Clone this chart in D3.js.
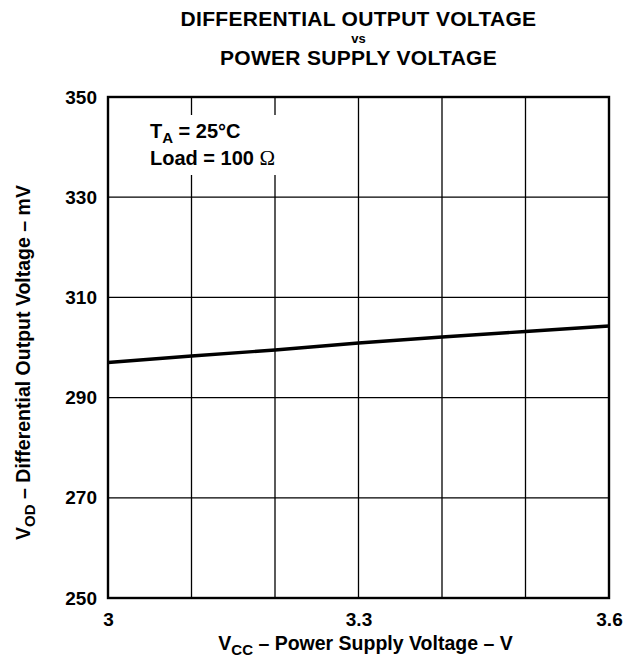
<!DOCTYPE html>
<html>
<head>
<meta charset="utf-8">
<script src="https://cdn.jsdelivr.net/npm/d3@7"></script>
<style>
  body { margin: 0; background: #fff; }
  text { font-family: "Liberation Sans", Arial, sans-serif; font-weight: bold; fill: #000; }
</style>
</head>
<body>
<svg id="chart"></svg>
<script>
// supply voltage (V) and differential output voltage (mV)
const vcc = [3.0, 3.1, 3.2, 3.3, 3.4, 3.5, 3.6];
const vod = [297.0, 298.3, 299.5, 300.9, 302.1, 303.2, 304.3];
const xTicks = [3.0, 3.1, 3.2, 3.3, 3.4, 3.5, 3.6];
const xTickLabels = ['3', '', '', '3.3', '', '', '3.6'];
const yTicks = [250, 270, 290, 310, 330, 350];

const width = 639, height = 661;
const margin = { top: 97, right: 30, bottom: 63, left: 108 };
const innerW = width - margin.left - margin.right;
const innerH = height - margin.top - margin.bottom;

const svg = d3.select('#chart')
    .attr('width', width)
    .attr('height', height);

const chart = svg.append('g')
    .attr('transform', `translate(${margin.left},${margin.top})`);

const x = d3.scaleLinear().domain([3.0, 3.6]).range([0, innerW]);
const y = d3.scaleLinear().domain([250, 350]).range([innerH, 0]);

// grid
chart.append('g')
    .selectAll('line')
    .data(xTicks)
    .join('line')
    .attr('x1', d => x(d)).attr('x2', d => x(d))
    .attr('y1', 0).attr('y2', innerH)
    .attr('stroke', '#000').attr('stroke-width', 1.3);

chart.append('g')
    .selectAll('line')
    .data(yTicks)
    .join('line')
    .attr('x1', 0).attr('x2', innerW)
    .attr('y1', d => y(d)).attr('y2', d => y(d))
    .attr('stroke', '#000').attr('stroke-width', 1.3);

// white box behind the annotation
chart.append('rect')
    .attr('x', 30).attr('y', 18)
    .attr('width', 150).attr('height', 60)
    .attr('fill', '#fff');

// frame
chart.append('rect')
    .attr('width', innerW).attr('height', innerH)
    .attr('fill', 'none')
    .attr('stroke', '#000').attr('stroke-width', 2.4);

// axes (labels only)
const xAxis = d3.axisBottom(x)
    .tickValues(xTicks)
    .tickFormat((d, i) => xTickLabels[i])
    .tickSize(0).tickPadding(15);
const xAxisG = chart.append('g')
    .attr('transform', `translate(0,${innerH})`)
    .call(xAxis);

const yAxis = d3.axisLeft(y)
    .tickValues(yTicks)
    .tickFormat(d3.format('d'))
    .tickSize(0).tickPadding(11);
const yAxisG = chart.append('g').call(yAxis);

[xAxisG, yAxisG].forEach(g => {
    g.select('.domain').remove();
    g.selectAll('text')
        .attr('font-family', '"Liberation Sans", Arial, sans-serif')
        .attr('font-weight', 'bold')
        .attr('font-size', 19)
        .attr('fill', '#000');
});

// data line
const line = d3.line()
    .x((d, i) => x(vcc[i]))
    .y(d => y(d));

chart.append('path')
    .datum(vod)
    .attr('d', line)
    .attr('fill', 'none')
    .attr('stroke', '#000')
    .attr('stroke-width', 3.4);

// annotation
const ann = chart.append('text')
    .attr('x', 42).attr('y', 41)
    .attr('font-size', 20);
ann.append('tspan').text('T');
ann.append('tspan').attr('font-size', 15).attr('dy', 5).text('A');
ann.append('tspan').attr('dy', -5).text(' = 25°C');

const ann2 = chart.append('text')
    .attr('x', 42).attr('y', 68)
    .attr('font-size', 20);
ann2.append('tspan').text('Load = 100 ');
ann2.append('tspan')
    .attr('font-family', '"Liberation Serif", "Times New Roman", serif')
    .attr('font-weight', 'normal')
    .attr('font-size', 21)
    .text('Ω');

// title
const cx = margin.left + innerW / 2;
svg.append('text').attr('x', cx).attr('y', 26)
    .attr('text-anchor', 'middle').attr('font-size', 21)
    .attr('letter-spacing', 0.3)
    .text('DIFFERENTIAL OUTPUT VOLTAGE');
svg.append('text').attr('x', cx).attr('y', 43)
    .attr('text-anchor', 'middle').attr('font-size', 13)
    .text('vs');
svg.append('text').attr('x', cx).attr('y', 65)
    .attr('text-anchor', 'middle').attr('font-size', 21)
    .attr('letter-spacing', 0.3)
    .text('POWER SUPPLY VOLTAGE');

// x label
const xl = svg.append('text')
    .attr('x', cx + 7).attr('y', 650)
    .attr('text-anchor', 'middle').attr('font-size', 19.5);
xl.append('tspan').text('V');
xl.append('tspan').attr('font-size', 15).attr('dy', 5).text('CC');
xl.append('tspan').attr('dy', -5).text(' – Power Supply Voltage – V');

// y label
const yl = svg.append('text')
    .attr('transform', `translate(30,${margin.top + innerH / 2 + 15}) rotate(-90)`)
    .attr('text-anchor', 'middle').attr('font-size', 19.5);
yl.append('tspan').text('V');
yl.append('tspan').attr('font-size', 15).attr('dy', 5).text('OD');
yl.append('tspan').attr('dy', -5).text(' – Differential Output Voltage – mV');
</script>
</body>
</html>
